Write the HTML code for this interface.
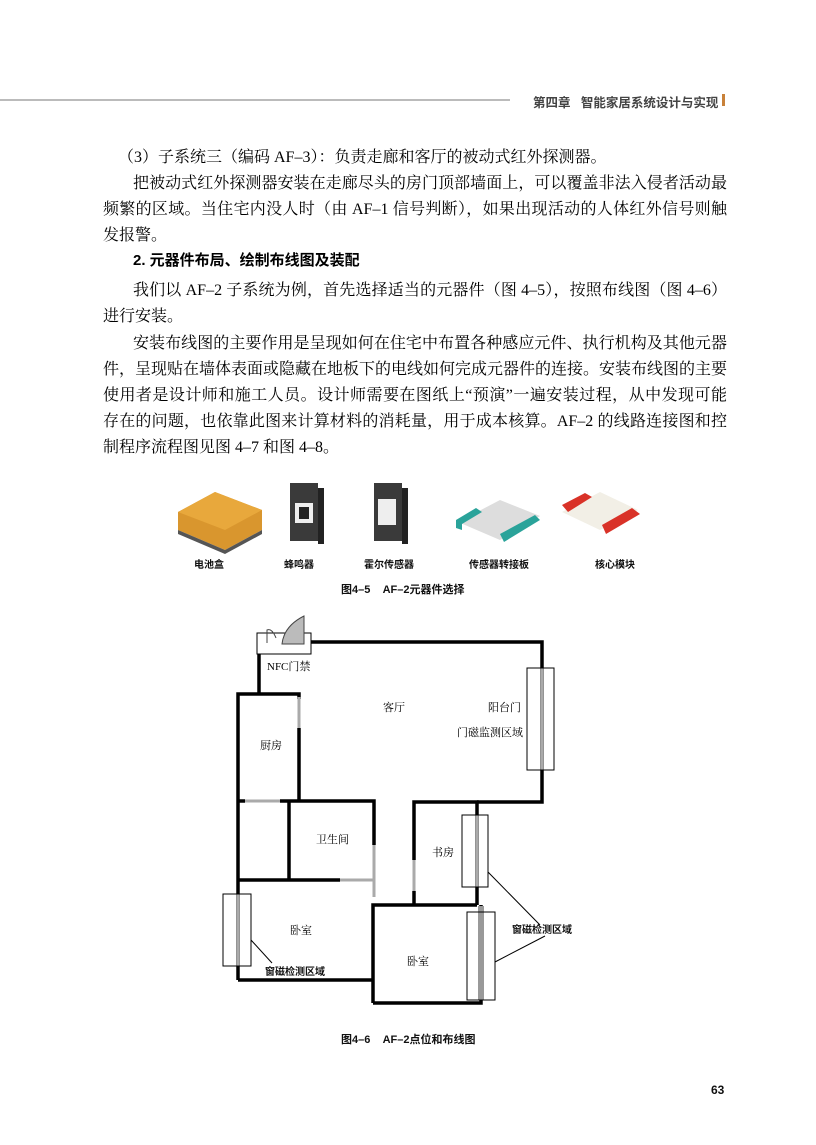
<!DOCTYPE html>
<html><head><meta charset="utf-8">
<style>
body{margin:0;width:816px;height:1145px;background:#fff;position:relative;overflow:hidden;font-family:"Liberation Serif","Noto Serif CJK SC",serif;color:#000}
.l{position:absolute;font-size:16px;line-height:20px;white-space:nowrap}
.j{text-align:justify;text-align-last:justify;white-space:normal}
.s{position:absolute;font-family:"Liberation Sans","Noto Sans CJK SC",sans-serif;font-size:10px;font-weight:bold;color:#111;white-space:nowrap}
</style></head><body>
<div style="position:absolute;left:0;top:99px;width:510px;height:1.5px;background:#bbb"></div>
<div class="s" style="left:533px;top:92px;font-size:12.5px;color:#444">第四章&nbsp;&nbsp;&nbsp;智能家居系统设计与实现</div>
<div style="position:absolute;left:722px;top:94px;width:3px;height:12px;background:#c8813a"></div>

<div class="l" style="left:118px;top:148px">（3）子系统三（编码 AF–3）：负责走廊和客厅的被动式红外探测器。</div>
<div class="l j" style="left:133px;top:174px;width:594px">把被动式红外探测器安装在走廊尽头的房门顶部墙面上，可以覆盖非法入侵者活动最</div>
<div class="l j" style="left:103px;top:200px;width:624px">频繁的区域。当住宅内没人时（由 AF–1 信号判断），如果出现活动的人体红外信号则触</div>
<div class="l" style="left:103px;top:226px">发报警。</div>
<div class="l" style="left:133px;top:251px;font-family:'Liberation Sans','Noto Sans CJK SC',sans-serif;font-weight:bold;font-size:15px">2. 元器件布局、绘制布线图及装配</div>
<div class="l j" style="left:133px;top:281px;width:594px">我们以 AF–2 子系统为例，首先选择适当的元器件（图 4–5），按照布线图（图 4–6）</div>
<div class="l" style="left:103px;top:307px">进行安装。</div>
<div class="l j" style="left:133px;top:334px;width:594px">安装布线图的主要作用是呈现如何在住宅中布置各种感应元件、执行机构及其他元器</div>
<div class="l j" style="left:103px;top:360px;width:624px">件，呈现贴在墙体表面或隐藏在地板下的电线如何完成元器件的连接。安装布线图的主要</div>
<div class="l j" style="left:103px;top:386px;width:624px">使用者是设计师和施工人员。设计师需要在图纸上“预演”一遍安装过程，从中发现可能</div>
<div class="l j" style="left:103px;top:412px;width:624px">存在的问题，也依靠此图来计算材料的消耗量，用于成本核算。AF–2 的线路连接图和控</div>
<div class="l" style="left:103px;top:438px">制程序流程图见图 4–7 和图 4–8。</div>

<svg style="position:absolute;left:0;top:0" width="816" height="1145">
<polygon points="178,512 215,492 262,510 262,530 225,550 178,530" fill="#d9962e"/>
<polygon points="178,512 215,492 262,510 225,530" fill="#e8a83c"/>
<polygon points="178,530 225,550 262,530 262,534 225,554 178,534" fill="#555"/>
<rect x="290" y="483" width="28" height="58" fill="#3a3a3a"/><rect x="318" y="488" width="6" height="56" fill="#222"/>
<rect x="295" y="503" width="18" height="20" fill="#eee"/><rect x="299" y="507" width="10" height="12" fill="#222"/>
<rect x="374" y="483" width="28" height="58" fill="#3a3a3a"/><rect x="402" y="488" width="6" height="56" fill="#222"/>
<rect x="378" y="499" width="18" height="26" fill="#eee"/>
<polygon points="458,522 500,500 540,516 500,540" fill="#ddd"/>
<polygon points="456,520 476,508 482,512 462,524 462,530 456,528" fill="#2aa39a"/>
<polygon points="500,534 535,515 540,520 504,542" fill="#2aa39a"/>
<polygon points="562,512 600,492 638,510 600,530" fill="#f2efe6"/>
<polygon points="562,505 585,493 592,497 568,512" fill="#d93228"/>
<polygon points="602,525 632,508 640,514 606,534" fill="#d93228"/>
<g fill="none" stroke="#000" stroke-width="3.5">
<polyline points="311,642 542,642 542,802 477,802"/>
<polyline points="259,654 259,694"/>
<polyline points="238,980 238,694 299,694 299,699"/>
<line x1="299" y1="728" x2="299" y2="801"/>
<polyline points="280,801 374,801 374,845"/>
<line x1="238" y1="801" x2="245" y2="801"/>
<line x1="289" y1="801" x2="289" y2="880"/>
<line x1="238" y1="880" x2="340" y2="880"/>
<line x1="238" y1="980" x2="373" y2="980"/>
<polyline points="373,1003 373,905 477,905"/>
<polyline points="414,860 414,802 477,802 477,905"/>
<line x1="414" y1="891" x2="414" y2="905"/>
<polyline points="481,905 481,1003 373,1003"/>
</g>
<g stroke="#aaa" stroke-width="3" fill="none">
<line x1="299" y1="697" x2="299" y2="728"/>
<line x1="245" y1="801" x2="280" y2="801"/>
<line x1="374" y1="845" x2="374" y2="897"/>
<line x1="340" y1="880" x2="374" y2="880"/>
<line x1="414" y1="860" x2="414" y2="891"/>
<line x1="542" y1="668" x2="542" y2="770"/>
<line x1="238" y1="894" x2="238" y2="966"/>
<line x1="477" y1="815" x2="477" y2="887"/>
</g>
<line x1="481" y1="906" x2="481" y2="1000" stroke="#999" stroke-width="6"/>
<g fill="none" stroke="#000" stroke-width="1">
<rect x="527" y="668" width="27" height="102"/>
<rect x="223" y="894" width="28" height="72"/>
<rect x="462" y="815" width="26" height="72"/>
<rect x="467" y="912" width="28" height="88"/>
<rect x="257" y="633" width="54" height="21"/>
<line x1="488" y1="872" x2="540" y2="925"/>
<line x1="495" y1="962" x2="545" y2="936"/>
<line x1="251" y1="940" x2="272" y2="963"/>
</g>
<path d="M304,616 L304,644 L282,644 Q284,626 304,616 Z" fill="#bbb" stroke="#444" stroke-width="1"/>
<path d="M267,643 L267,630 Q272,628 276,638" fill="none" stroke="#444" stroke-width="1"/>
</svg>

<div class="s" style="left:194px;top:556px">电池盒</div>
<div class="s" style="left:284px;top:556px">蜂鸣器</div>
<div class="s" style="left:364px;top:556px">霍尔传感器</div>
<div class="s" style="left:469px;top:556px">传感器转接板</div>
<div class="s" style="left:595px;top:556px">核心模块</div>
<div class="s" style="left:341px;top:581px;font-size:11px">图4–5&nbsp;&nbsp;&nbsp;&nbsp;AF–2元器件选择</div>

<div class="l" style="left:267px;top:657px;font-size:11px">NFC门禁</div>
<div class="l" style="left:383px;top:698px;font-size:11px">客厅</div>
<div class="l" style="left:488px;top:698px;font-size:11px">阳台门</div>
<div class="l" style="left:457px;top:723px;font-size:11px">门磁监测区域</div>
<div class="l" style="left:260px;top:736px;font-size:11px">厨房</div>
<div class="l" style="left:316px;top:830px;font-size:11px">卫生间</div>
<div class="l" style="left:432px;top:843px;font-size:11px">书房</div>
<div class="l" style="left:290px;top:921px;font-size:11px">卧室</div>
<div class="l" style="left:407px;top:952px;font-size:11px">卧室</div>
<div class="s" style="left:512px;top:921px">窗磁检测区域</div>
<div class="s" style="left:265px;top:963px">窗磁检测区域</div>
<div class="s" style="left:341px;top:1031px;font-size:11px">图4–6&nbsp;&nbsp;&nbsp;&nbsp;AF–2点位和布线图</div>
<div class="s" style="left:711px;top:1083px;font-size:12px">63</div>
</body></html>
